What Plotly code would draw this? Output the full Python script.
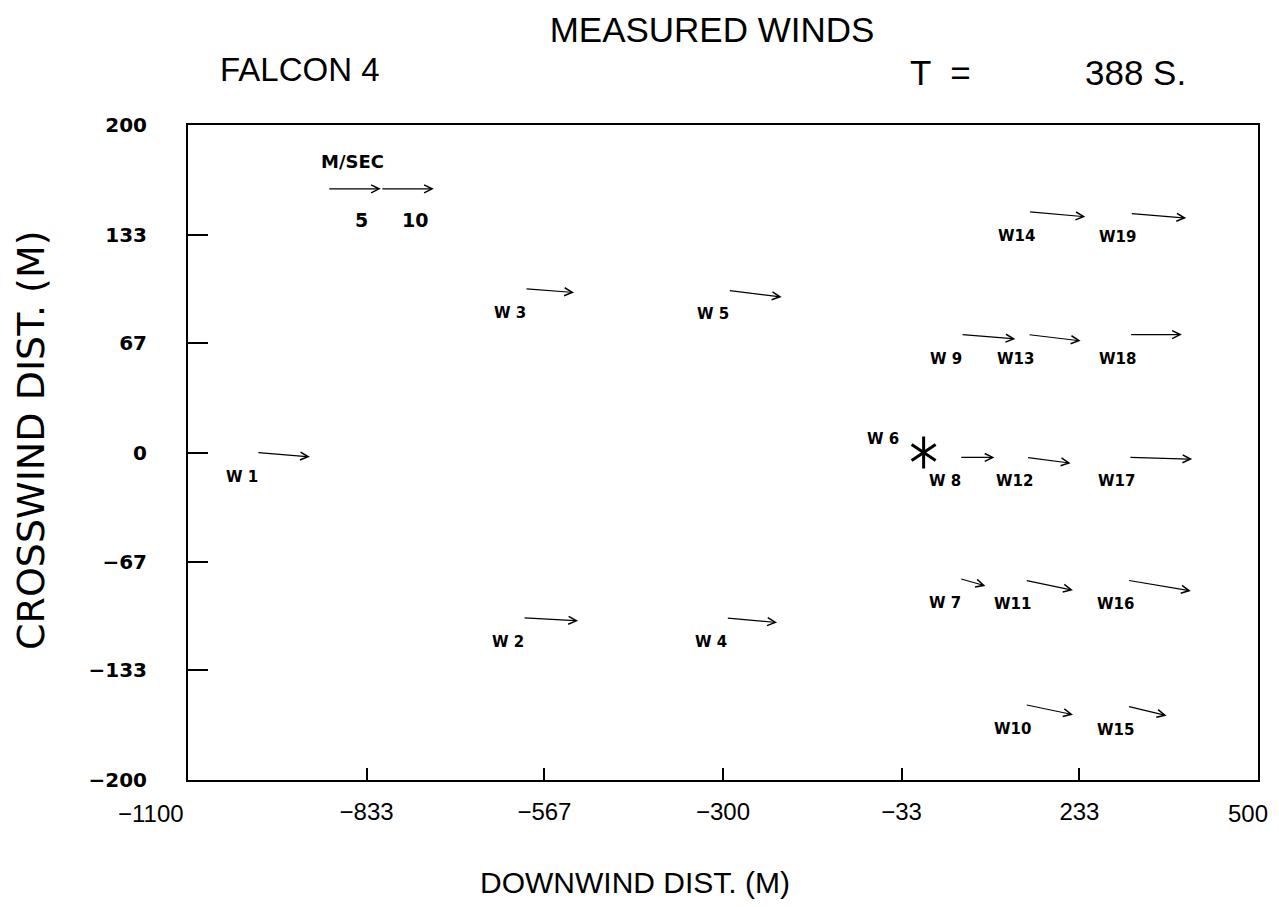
import plotly.graph_objects as go

# ---------------- data ----------------
STATIONS = ["W 1", "W 2", "W 3", "W 4", "W 5", "W 6", "W 7", "W 8", "W 9", "W10",
            "W11", "W12", "W13", "W14", "W15", "W16", "W17", "W18", "W19"]
STATION_X = [-997, -599, -596, -295, -292, -38, 54, 54, 56, 152,
             152, 154, 156, 157, 305, 305, 307, 308, 309]
STATION_Y = [0, -101, 100, -101, 99, 23, -77, -3, 72, -154,
             -78, -3, 72, 147, -155, -78, -3, 72, 146]
# wind components (m/s); None = no measurement
WIND_U = [5.0, 5.19, 4.62, 4.78, 5.03, None, 2.42, 3.27, 5.12, 4.5,
          4.5, 4.15, 4.97, 5.35, 3.68, 5.97, 5.97, 4.93, 5.28]
WIND_V = [-0.41, -0.28, -0.35, -0.44, -0.62, None, -0.69, 0.0, -0.41, -0.94,
          -0.94, -0.54, -0.59, -0.47, -0.88, -1.01, -0.16, 0.0, -0.44]

SOURCE_X = [0]
SOURCE_Y = [0]

X_TICKS = [-1100, -833, -567, -300, -33, 233, 500]
Y_TICKS = [-200, -133, -67, 0, 67, 133, 200]
LEGEND_SPEEDS = [5, 10]
LEGEND_ORIGIN = (-891, 161)

# ---------------- layout geometry ----------------
PAGE_OFFSET = 8            # default body margin of the html page
W, H = 1279 - PAGE_OFFSET, 907 - 2 * PAGE_OFFSET
# plot box in screen pixels: x 188..1258, y 125..780
MARGIN = dict(l=188 - PAGE_OFFSET, r=W - (1258 - PAGE_OFFSET),
              t=125 - PAGE_OFFSET, b=H - (780 - PAGE_OFFSET))
XR = [-1100, 500]
YR = [-200, 200]
PX_PER_MS = 10.6  # arrow length scale (pixels per m/s)
PLOT_W = W - MARGIN["l"] - MARGIN["r"]
PLOT_H = H - MARGIN["t"] - MARGIN["b"]
px_per_x = PLOT_W / (XR[1] - XR[0])
px_per_y = PLOT_H / (YR[1] - YR[0])
KX = PX_PER_MS / px_per_x
KY = PX_PER_MS / px_per_y

SANS = "Liberation Sans, Arial, sans-serif"
LABEL_FONT = dict(family="DejaVu Sans", size=15, color="black", weight="bold")
XTICK_FONT = dict(family=SANS, size=24, color="black")


def fmt(v):
    return str(v).replace("-", "\u2212")


def screen_to_paper(px, py):
    fx, fy = px - PAGE_OFFSET, py - PAGE_OFFSET
    return (fx - MARGIN["l"]) / PLOT_W, (H - MARGIN["b"] - fy) / PLOT_H


fig = go.Figure()

# source marker (asterisk built from two Y symbols)
for sym in ["y-up-open", "y-down-open"]:
    fig.add_trace(go.Scatter(
        x=SOURCE_X, y=SOURCE_Y, mode="markers", hoverinfo="skip",
        marker=dict(symbol=sym, size=20, line=dict(width=3, color="black"), color="black"),
        showlegend=False))

annotations = []
arrow_style = dict(showarrow=True, arrowhead=5, arrowsize=1.3, arrowwidth=1.2,
                   arrowcolor="black", standoff=0, startstandoff=0, text="",
                   xref="x", yref="y", axref="x", ayref="y")

for name, sx, sy, u, v in zip(STATIONS, STATION_X, STATION_Y, WIND_U, WIND_V):
    if u is not None:
        annotations.append(dict(x=sx + u * KX, y=sy + v * KY, ax=sx, ay=sy, **arrow_style))
    annotations.append(dict(x=sx, y=sy, xref="x", yref="y", text=name, showarrow=False,
                            xanchor="left", yanchor="middle", xshift=-33, yshift=-24,
                            font=LABEL_FONT))

# speed legend
lx, ly = LEGEND_ORIGIN
prev = 0
for s in LEGEND_SPEEDS:
    annotations.append(dict(x=lx + s * KX, y=ly, ax=lx + prev * KX, ay=ly, **arrow_style))
    annotations.append(dict(x=lx + s * KX, y=ly, xref="x", yref="y", text=str(s),
                            showarrow=False, xanchor="center", yanchor="middle",
                            xshift=-19, yshift=-31,
                            font=dict(family="DejaVu Sans", size=19, color="black",
                                      weight="bold")))
    prev = s
annotations.append(dict(x=lx, y=ly, xref="x", yref="y", text="M/SEC", showarrow=False,
                        xanchor="left", yanchor="middle", xshift=-9, yshift=27,
                        font=dict(family="DejaVu Sans", size=18, color="black", weight="bold")))

# end-of-axis x tick labels are drawn offset (as in the original plotter output)
for val, shift in [(X_TICKS[0], -37), (X_TICKS[-1], -10)]:
    annotations.append(dict(x=val, y=0, xref="x", yref="paper", text=fmt(val),
                            showarrow=False, xanchor="center", yanchor="middle",
                            xshift=shift, yshift=-33, font=XTICK_FONT))

# header texts and axis titles (screen pixel positions converted to paper coordinates)
for txt, px, py, size, fam, ang in [
        ("FALCON 4", 300, 70, 33, SANS, 0),
        ("T  =", 940, 73, 35, SANS, 0),
        ("388 S.", 1135, 73, 35, SANS, 0),
        ("DOWNWIND DIST. (M)", 635, 882, 30, SANS, 0),
        ("CROSSWIND DIST. (M)", 31, 440, 38, "DejaVu Sans", -90)]:
    xp, yp = screen_to_paper(px, py)
    annotations.append(dict(x=xp, y=yp, xref="paper", yref="paper", text=txt,
                            showarrow=False, xanchor="center", yanchor="middle",
                            textangle=ang,
                            font=dict(family=fam, size=size, color="black")))

x_ticktext = [fmt(v) for v in X_TICKS]
x_ticktext[0] = ""
x_ticktext[-1] = ""

fig.update_layout(
    width=W, height=H, autosize=False,
    margin=MARGIN,
    paper_bgcolor="white", plot_bgcolor="white",
    showlegend=False,
    title=dict(text="MEASURED WINDS", x=(712 - PAGE_OFFSET) / W,
               y=1 - (30 - PAGE_OFFSET) / H, xref="container",
               yref="container", xanchor="center", yanchor="middle",
               font=dict(family=SANS, size=35, color="black")),
    annotations=annotations,
    xaxis=dict(range=XR, tickmode="array", tickvals=X_TICKS,
               ticktext=x_ticktext, automargin=False,
               ticks="inside", ticklen=12, tickwidth=1.5, tickcolor="black",
               showline=True, linecolor="black", linewidth=2, mirror=True,
               showgrid=False, zeroline=False, ticklabelstandoff=9,
               tickfont=XTICK_FONT),
    yaxis=dict(range=YR, tickmode="array", tickvals=Y_TICKS,
               ticktext=[fmt(v) for v in Y_TICKS], automargin=False,
               ticklabeloverflow="allow",
               ticks="inside", ticklen=20, tickwidth=1.5, tickcolor="black",
               showline=True, linecolor="black", linewidth=2, mirror=True,
               showgrid=False, zeroline=False, ticklabelstandoff=35,
               tickfont=dict(family="DejaVu Sans", size=20, color="black", weight="bold")),
)

fig.write_html("out.html")
